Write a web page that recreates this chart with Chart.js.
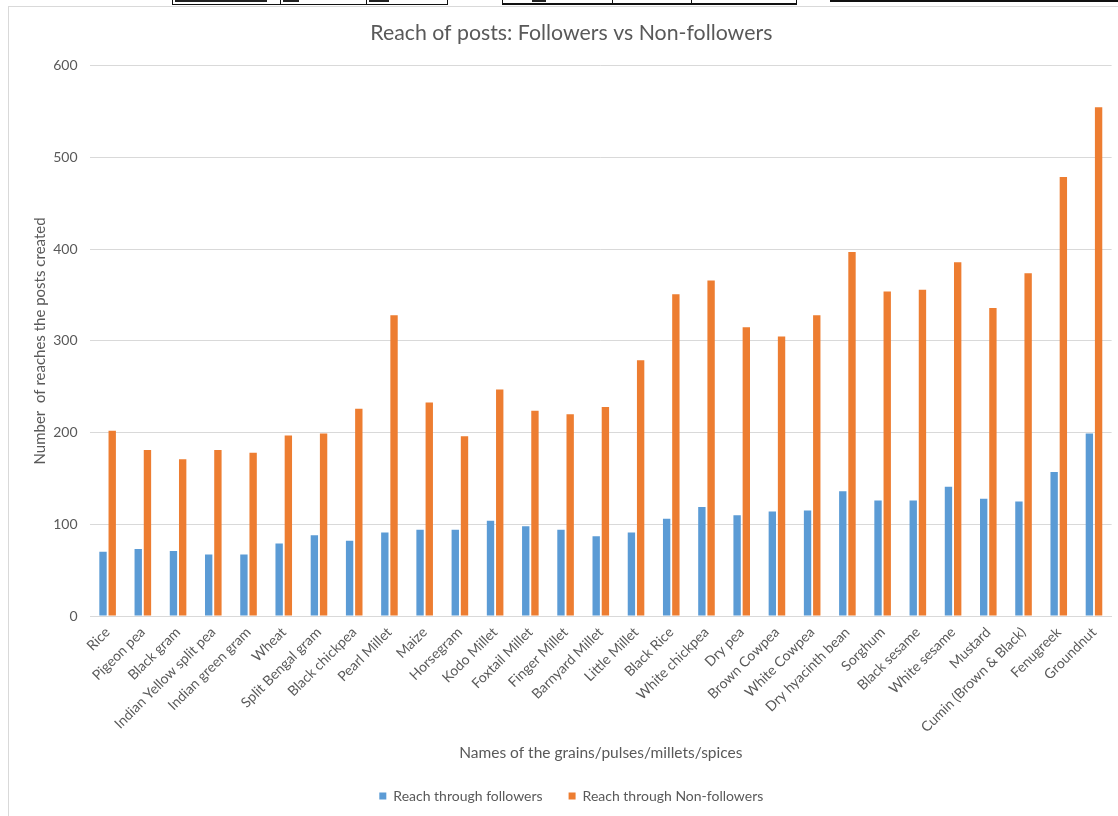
<!DOCTYPE html>
<html>
<head>
<meta charset="utf-8">
<title>Reach of posts: Followers vs Non-followers</title>
<script src="https://cdn.jsdelivr.net/npm/chart.js@4.4.1/dist/chart.umd.min.js"></script>
<style>
  html, body { margin: 0; padding: 0; background: #ffffff; overflow: hidden; }
  body { width: 1118px; height: 816px; position: relative; }
  /* spreadsheet cells peeking above the chart object */
  .cell { position: absolute; border: 1px solid #111; border-top: none; background: #fff; }
  .ink { position: absolute; height: 2px; background: #222; top: 0; }
  .rule { position: absolute; left: 830px; top: 0; width: 300px; height: 2px; background: #111; }
  #frame {
    position: absolute; left: 8px; top: 6px; width: 1130px; height: 830px;
    border-left: 1px solid #d9d9d9; border-top: 1px solid #d9d9d9; background: #fff;
  }
  #chart { position: absolute; left: 0; top: 0; }
</style>
</head>
<body>
<div class="cell" style="left:172px; top:-6px; width:107px; height:10px;"></div>
<div class="cell" style="left:280px; top:-6px; width:85px; height:10px;"></div>
<div class="cell" style="left:366px; top:-6px; width:80px; height:10px;"></div>
<div class="ink" style="left:175px; width:92px;"></div>
<div class="ink" style="left:283px; width:16px;"></div>
<div class="ink" style="left:369px; width:20px;"></div>
<div class="cell" style="left:502px; top:-6px; width:109px; height:9px; border-bottom-width:2px;"></div>
<div class="cell" style="left:612px; top:-6px; width:78px; height:9px; border-bottom-width:2px;"></div>
<div class="cell" style="left:691px; top:-6px; width:104px; height:9px; border-bottom-width:2px;"></div>
<div class="ink" style="left:532px; width:14px;"></div>
<div class="rule"></div>

<div id="frame"><canvas id="chart" width="1120" height="809"></canvas></div>

<script>
// Crops, pulses, millets and spices, in plotting order
const categories = [
  "Rice", "Pigeon pea", "Black gram", "Indian Yellow split pea", "Indian green gram",
  "Wheat", "Split Bengal gram", "Black chickpea", "Pearl Millet", "Maize",
  "Horsegram", "Kodo Millet", "Foxtail Millet", "Finger Millet", "Barnyard Millet",
  "Little Millet", "Black Rice", "White chickpea", "Dry pea", "Brown Cowpea",
  "White Cowpea", "Dry hyacinth bean", "Sorghum", "Black sesame", "White sesame",
  "Mustard", "Cumin (Brown & Black)", "Fenugreek", "Groundnut"
];

// Reach of each post among followers
const followerReach = [
  70, 73, 71, 67, 67,
  79, 88, 82, 91, 94,
  94, 104, 98, 94, 87,
  91, 106, 119, 110, 114,
  115, 136, 126, 126, 141,
  128, 125, 157, 199
];

// Reach of each post among non-followers
const nonFollowerReach = [
  202, 181, 171, 181, 178,
  197, 199, 226, 328, 233,
  196, 247, 224, 220, 228,
  279, 351, 366, 315, 305,
  328, 397, 354, 356, 386,
  336, 374, 479, 555
];

const seriesNames = ["Reach through followers", "Reach through Non-followers"];
const yTicks = [0, 100, 200, 300, 400, 500, 600];

const textGrey = "#595959";
const gridGrey = "#d9d9d9";
const fontFamily = "Lato, 'Open Sans', sans-serif";

new Chart(document.getElementById("chart"), {
  type: "bar",
  data: {
    labels: categories,
    datasets: [
      {
        label: seriesNames[0],
        data: followerReach,
        backgroundColor: "#5b9bd5",
        borderWidth: 0,
        barPercentage: 0.8,
        categoryPercentage: 0.523
      },
      {
        label: seriesNames[1],
        data: nonFollowerReach,
        backgroundColor: "#ed7d31",
        borderWidth: 0,
        barPercentage: 0.8,
        categoryPercentage: 0.523
      }
    ]
  },
  options: {
    responsive: false,
    animation: false,
    devicePixelRatio: 1,
    layout: { padding: { left: 22, right: 17.4, top: 0, bottom: 3 } },
    plugins: {
      title: {
        display: true,
        text: "Reach of posts: Followers vs Non-followers",
        color: textGrey,
        font: { family: fontFamily, size: 21.3, weight: "normal", lineHeight: 1.2 },
        padding: { top: 13.2, bottom: 20.2 }
      },
      legend: {
        position: "bottom",
        labels: {
          color: textGrey,
          font: { family: fontFamily, size: 14 },
          boxWidth: 7,
          boxHeight: 7,
          padding: 26
        }
      },
      tooltip: { enabled: false }
    },
    scales: {
      x: {
        grid: { display: false, drawTicks: false },
        border: { display: true, color: gridGrey, width: 1 },
        ticks: {
          color: textGrey,
          font: { family: fontFamily, size: 14 },
          autoSkip: false,
          minRotation: 45,
          maxRotation: 45,
          padding: 8
        },
        title: {
          display: true,
          text: "Names of the grains/pulses/millets/spices",
          color: textGrey,
          font: { family: fontFamily, size: 15.5 },
          padding: { top: 0, bottom: 0.7 }
        },
        afterFit: (scale) => { scale.height = 147; }
      },
      y: {
        min: 0,
        max: 600,
        afterBuildTicks: (scale) => { scale.ticks = yTicks.map(v => ({ value: v })); },
        grid: { color: gridGrey, lineWidth: 1, drawTicks: false },
        border: { display: false },
        ticks: {
          color: textGrey,
          font: { family: fontFamily, size: 14 },
          padding: 12.5
        },
        title: {
          display: true,
          text: "Number  of reaches the posts created",
          color: textGrey,
          font: { family: fontFamily, size: 15 },
          padding: { top: 0, bottom: 0 }
        },
        afterFit: (scale) => { scale.width = 59; }
      }
    }
  }
});
</script>
</body>
</html>
